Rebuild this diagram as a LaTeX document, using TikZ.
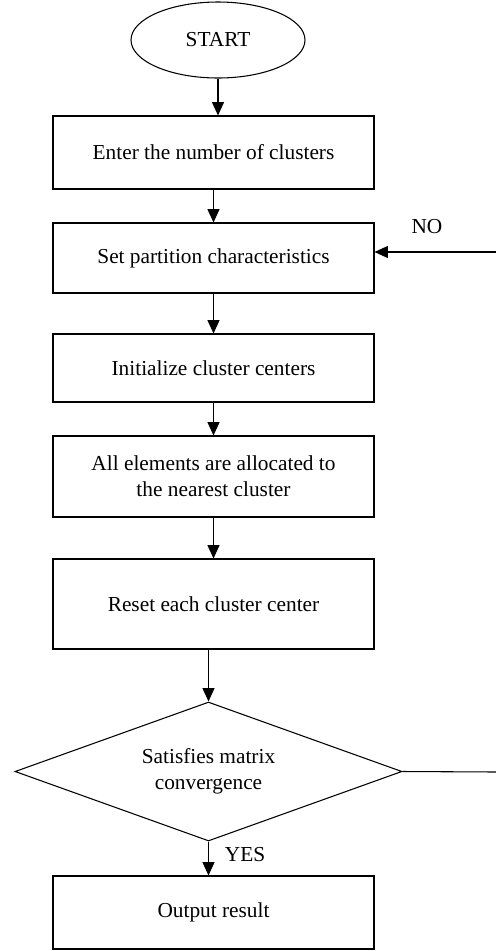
\documentclass[tikz,border=0pt]{standalone}
\usepackage{fontspec}
\setmainfont{Liberation Serif}
\usetikzlibrary{shapes.geometric,arrows.meta}

\begin{document}
\begin{tikzpicture}[x=0.75pt, y=-0.75pt, >={Triangle[length=10pt,width=9pt]},
	every step box/.style={draw, line width=0.8pt, minimum width=240.75pt, inner sep=0pt, align=center, font=\fontsize{16}{19.5}\selectfont},
	start oval/.style={draw, ellipse, line width=0.8pt, minimum width=130.5pt, minimum height=57pt, inner sep=0pt, font=\fontsize{16}{19.5}\selectfont},
	test diamond/.style={draw, diamond, aspect=2.78, line width=0.8pt, minimum width=290.25pt, minimum height=104.25pt, inner sep=0pt, align=center, font=\fontsize{16}{19.5}\selectfont},
	flow/.style={->, line width=0.8pt}]
\useasboundingbox (0,0) rectangle (496,951);

% start
\node [start oval] (start) at (218,40) {START};

% steps
\node [every step box, minimum height=54.75pt] (enter) at (213.5,152.5) {Enter the number of clusters};
\node [every step box, minimum height=52.5pt] (partition) at (213.5,258) {Set partition characteristics};
\node [every step box, minimum height=51pt] (init) at (213.5,368) {Initialize cluster centers};
\node [every step box, minimum height=60.75pt] (allocate) at (213.5,476.5) {All elements are allocated to\\the nearest cluster};
\node [every step box, minimum height=67.5pt] (reset) at (213.5,604) {Reset each cluster center};
\node [test diamond] (test) at (208.5,771.5) {Satisfies matrix\\convergence};
\node [every step box, minimum height=54.75pt] (output) at (213.5,912.5) {Output result};

% loop ends
\coordinate (noin) at (496,252);
\coordinate (noout) at (496,772);

% connections
\draw [flow] (start.south) -- (start.south |- enter.north);
\foreach \a/\b in {enter/partition, partition/init, init/allocate, allocate/reset}
	\draw [flow] (\a) -- (\b);
\draw [flow] (reset.south -| test.north) -- (test.north);
\draw [flow] (test.south) -- (test.south |- output.north);
\draw [flow] (noin) -- (noin -| partition.east);
\draw [line width=0.8pt] (test.east) -- (noout);

% labels
\node [font=\fontsize{16}{19.5}\selectfont] (nolabel) at (427,227) {NO};
\node [font=\fontsize{16}{19.5}\selectfont] (yeslabel) at (245,855) {YES};

\end{tikzpicture}
\end{document}
